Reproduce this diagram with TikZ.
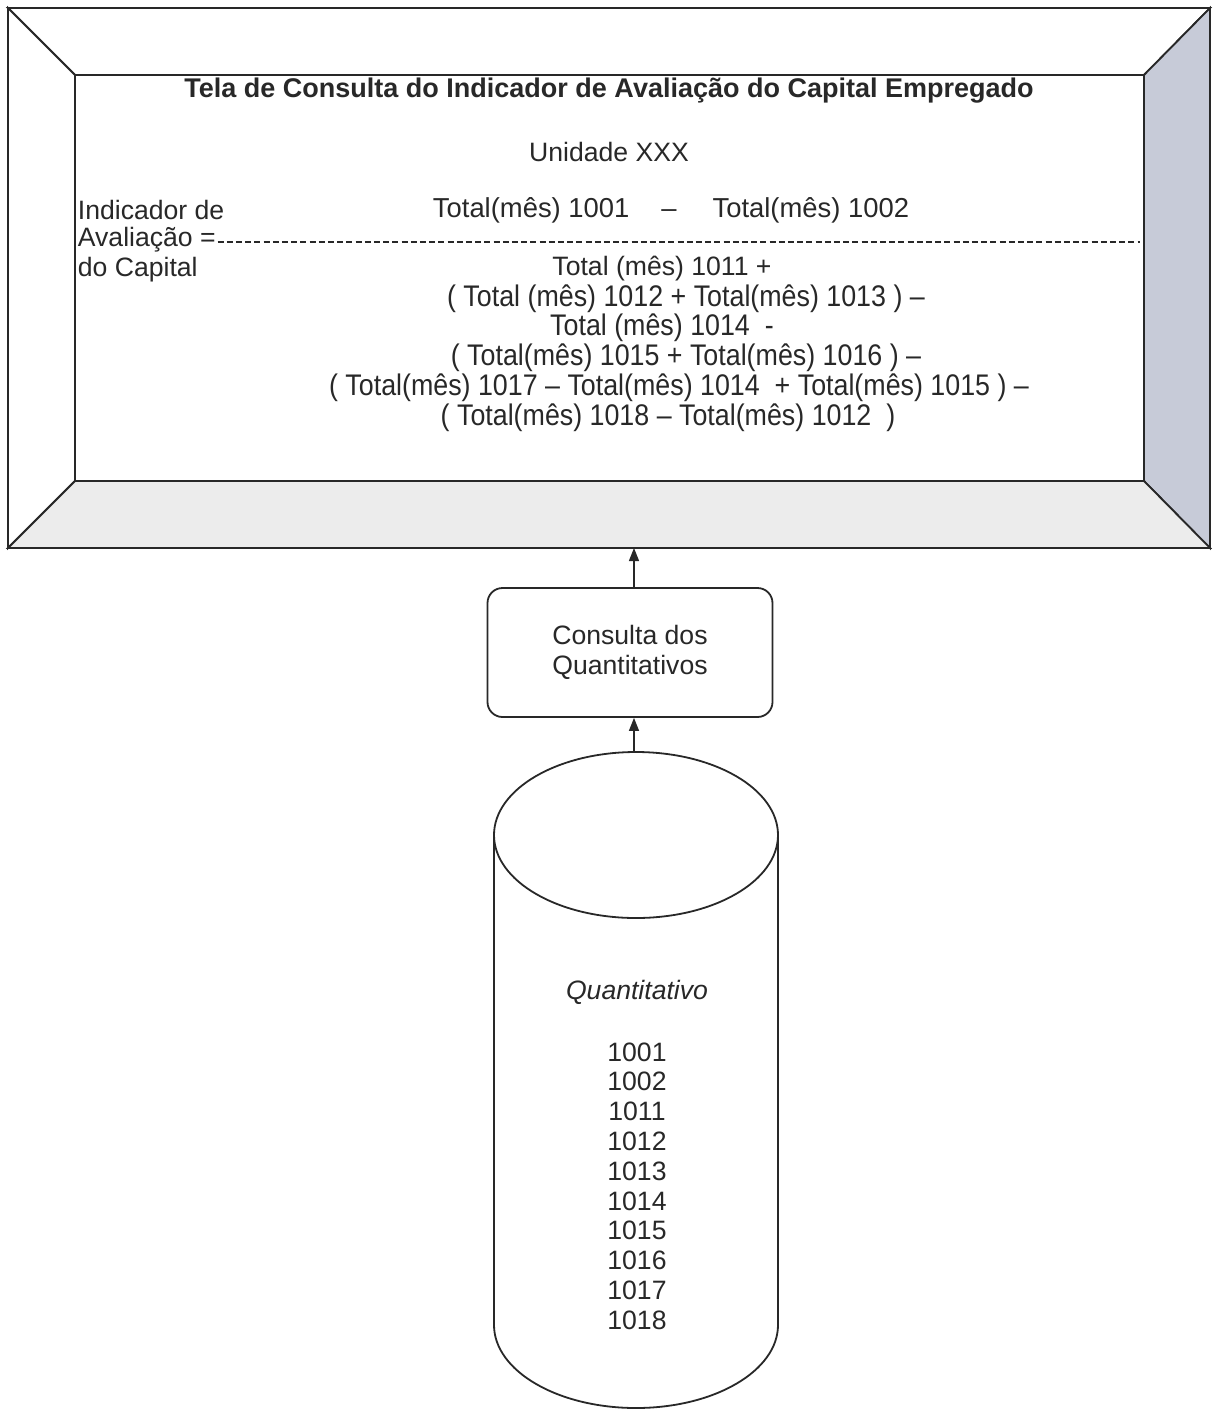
\documentclass[tikz,border=0pt]{standalone}
\usepackage{fontspec}
\setmainfont{Liberation Sans}
\newfontfamily\narrowfont{Liberation Sans}[FakeStretch=0.9]
\usetikzlibrary{arrows.meta}

\definecolor{bordaDir}{RGB}{199,203,216}
\definecolor{bordaInf}{RGB}{236,236,236}
\definecolor{tinta}{RGB}{40,40,40}

\begin{document}
\begin{tikzpicture}[
    x=0.5pt, y=-0.5pt,
    line width=0.9pt, draw=tinta,
    txt/.style={font=\fontsize{13.3}{15}\selectfont, text=tinta, inner sep=0pt},
    narrow/.style={font=\narrowfont\fontsize{14.9}{16}\selectfont, text=tinta, inner sep=0pt},
    arr/.style={-{Triangle[width=5pt,length=6.5pt]}, line width=0.7pt, draw=tinta},
]
\useasboundingbox[fill=white] (0,0) rectangle (1216,1410);

% Screen frame (bevelled)
\coordinate (oTL) at (8,8);    \coordinate (oTR) at (1210,8);
\coordinate (oBL) at (8,548);  \coordinate (oBR) at (1210,548);
\coordinate (iTL) at (75,75);  \coordinate (iTR) at (1144,75);
\coordinate (iBL) at (75,481); \coordinate (iBR) at (1144,481);
\coordinate (tela) at (634,548);

\filldraw[fill=white] (oTL) -- (oTR) -- (iTR) -- (iTL) -- cycle;
\filldraw[fill=white] (oTL) -- (iTL) -- (iBL) -- (oBL) -- cycle;
\filldraw[fill=bordaDir] (oTR) -- (oBR) -- (iBR) -- (iTR) -- cycle;
\filldraw[fill=bordaInf] (oBL) -- (oBR) -- (iBR) -- (iBL) -- cycle;
\draw[fill=white] (iTL) rectangle (iBR);

% Screen contents
\node[txt, font=\bfseries\fontsize{13.5}{15}\selectfont] (titulo) at (609,91)
    {Tela de Consulta do Indicador de Avaliação do Capital Empregado};
\node[txt] (unidade) at (609,152) {Unidade XXX};

\node[txt, anchor=west] (ind1) at (77,210) {Indicador de};
\node[txt, anchor=west] (ind2) at (77,240) {Avaliação =};
\node[txt, anchor=west] (ind3) at (77,270) {do Capital};
\draw[line width=0.6pt, dash pattern=on 3pt off 1.6pt] (ind2.east) ++(1,2) -- (1140,242);

\node[txt, font=\fontsize{13.7}{15}\selectfont] (numerador) at (671,210)
    {Total(mês) 1001\hspace{16pt}–\hspace{18pt}Total(mês) 1002};

\node[txt] (den1) at (662,269) {Total (mês) 1011 +};
\node[narrow] (den2) at (686,299) {( Total (mês) 1012 + Total(mês) 1013 ) –};
\node[narrow] (den3) at (662,328) {Total (mês) 1014\ \ -};
\node[narrow] (den4) at (686,358) {( Total(mês) 1015 + Total(mês) 1016 ) –};
\node[narrow] (den5) at (679,388) {( Total(mês) 1017 – Total(mês) 1014\ \ + Total(mês) 1015 ) –};
\node[narrow] (den6) at (668,418) {( Total(mês) 1018 – Total(mês) 1012\ \ )};

% Query box
\node[draw, rounded corners=7.5pt, minimum width=142.5pt, minimum height=64.5pt,
      txt, align=center] (consulta) at (630,652.5)
    {Consulta dos\\Quantitativos};

% Database
\coordinate (banco) at (634,752);
\draw (494,835) -- (494,1325) arc (180:0:142 and 83) -- (778,835);
\draw (636,835) ellipse (142 and 83);
\node[txt, font=\itshape\fontsize{13.3}{15}\selectfont] (quant) at (637,992) {Quantitativo};
\foreach \q [count=\i] in {1001,1002,1011,1012,1013,1014,1015,1016,1017,1018}
    \node[txt] (q\q) at (637,{1052+29.8*(\i-1)}) {\q};

% Arrows
\draw[arr] (banco) -- (banco |- consulta.south);
\draw[arr] (consulta.north -| banco) -- (tela);
\end{tikzpicture}
\end{document}
